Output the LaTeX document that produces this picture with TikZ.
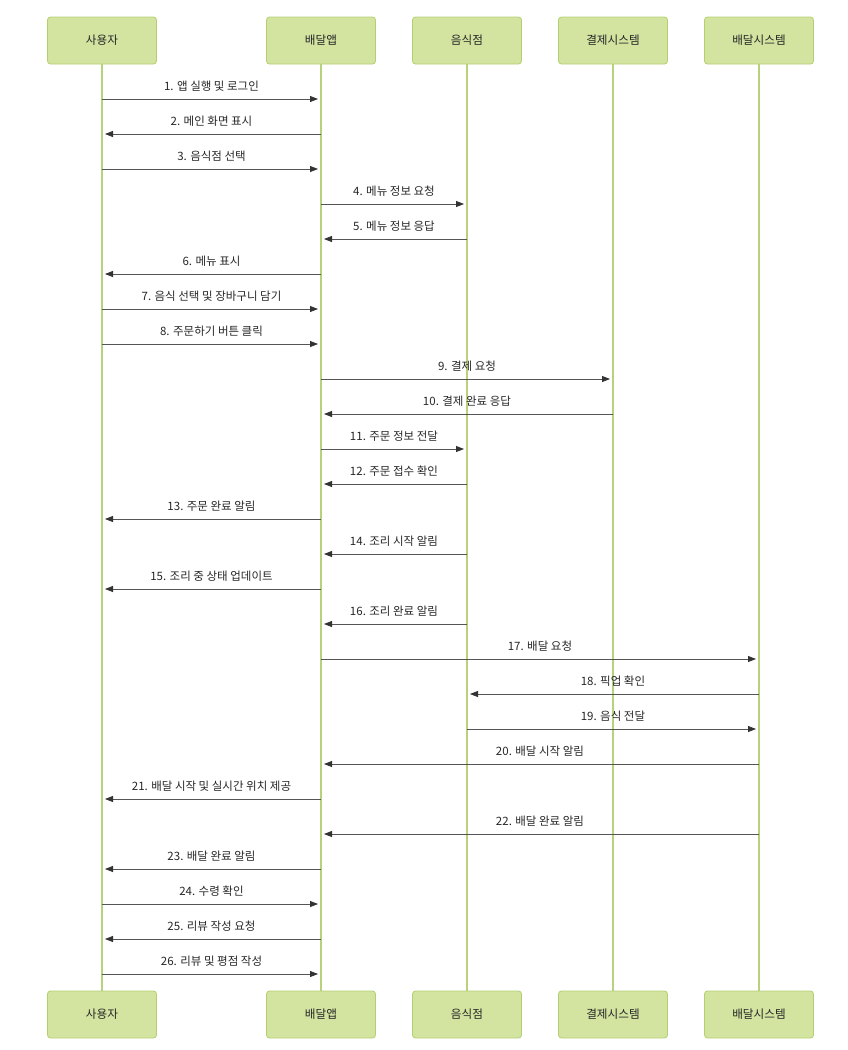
\documentclass[tikz,border=0pt]{standalone}
\usepackage{fontspec}
\setmainfont{Noto Sans CJK KR}
\usetikzlibrary{arrows.meta}
\definecolor{boxfill}{HTML}{D2E4A0}
\definecolor{boxline}{HTML}{B4CF72}
\definecolor{lifegreen}{HTML}{B7D27A}
\definecolor{msgline}{HTML}{555555}
\definecolor{tipgray}{HTML}{333333}
\begin{document}
\begin{tikzpicture}[x=1pt, y=-1pt, font=\fontsize{11.5}{13}\selectfont,
    actor/.style={draw=boxline, fill=boxfill, rounded corners=3pt, line width=0.8pt,
        minimum width=109pt, minimum height=47pt, inner sep=0pt,
        font=\fontsize{11.6}{13}\selectfont, text=black!85},
    life/.style={draw=lifegreen, line width=1.3pt},
    msg/.style={draw=msgline, line width=0.8pt, shorten >=3pt,
        -{Triangle[length=8pt, width=6pt, color=tipgray]}},
    msglabel/.style={midway, yshift=13pt, inner sep=0pt, text=black!85}]
    \useasboundingbox (0,0) rectangle (847,1050);
    % participants, top row
    \node[actor] (usr)  at (102,40.5) {사용자};
    \node[actor] (app)  at (321,40.5) {배달앱};
    \node[actor] (shop) at (467,40.5) {음식점};
    \node[actor] (pay)  at (613,40.5) {결제시스템};
    \node[actor] (dlv)  at (759,40.5) {배달시스템};
    % participants, bottom row
    \node[actor] (usrB)  at (102,1014.5) {사용자};
    \node[actor] (appB)  at (321,1014.5) {배달앱};
    \node[actor] (shopB) at (467,1014.5) {음식점};
    \node[actor] (payB)  at (613,1014.5) {결제시스템};
    \node[actor] (dlvB)  at (759,1014.5) {배달시스템};
    % lifelines
    \foreach \p in {usr, app, shop, pay, dlv}
        \draw[life] (\p.south) -- (\p B.north);
    % messages
    \foreach \i/\src/\dst/\txt in {
        1/usr/app/{1. 앱 실행 및 로그인},
        2/app/usr/{2. 메인 화면 표시},
        3/usr/app/{3. 음식점 선택},
        4/app/shop/{4. 메뉴 정보 요청},
        5/shop/app/{5. 메뉴 정보 응답},
        6/app/usr/{6. 메뉴 표시},
        7/usr/app/{7. 음식 선택 및 장바구니 담기},
        8/usr/app/{8. 주문하기 버튼 클릭},
        9/app/pay/{9. 결제 요청},
        10/pay/app/{10. 결제 완료 응답},
        11/app/shop/{11. 주문 정보 전달},
        12/shop/app/{12. 주문 접수 확인},
        13/app/usr/{13. 주문 완료 알림},
        14/shop/app/{14. 조리 시작 알림},
        15/app/usr/{15. 조리 중 상태 업데이트},
        16/shop/app/{16. 조리 완료 알림},
        17/app/dlv/{17. 배달 요청},
        18/dlv/shop/{18. 픽업 확인},
        19/shop/dlv/{19. 음식 전달},
        20/dlv/app/{20. 배달 시작 알림},
        21/app/usr/{21. 배달 시작 및 실시간 위치 제공},
        22/dlv/app/{22. 배달 완료 알림},
        23/app/usr/{23. 배달 완료 알림},
        24/usr/app/{24. 수령 확인},
        25/app/usr/{25. 리뷰 작성 요청},
        26/usr/app/{26. 리뷰 및 평점 작성}} {
        \pgfmathsetmacro\yy{64+35*\i}
        \draw[msg] (\src |- 0,\yy) -- (\dst |- 0,\yy) node[msglabel] {\txt};
    }
\end{tikzpicture}
\end{document}
